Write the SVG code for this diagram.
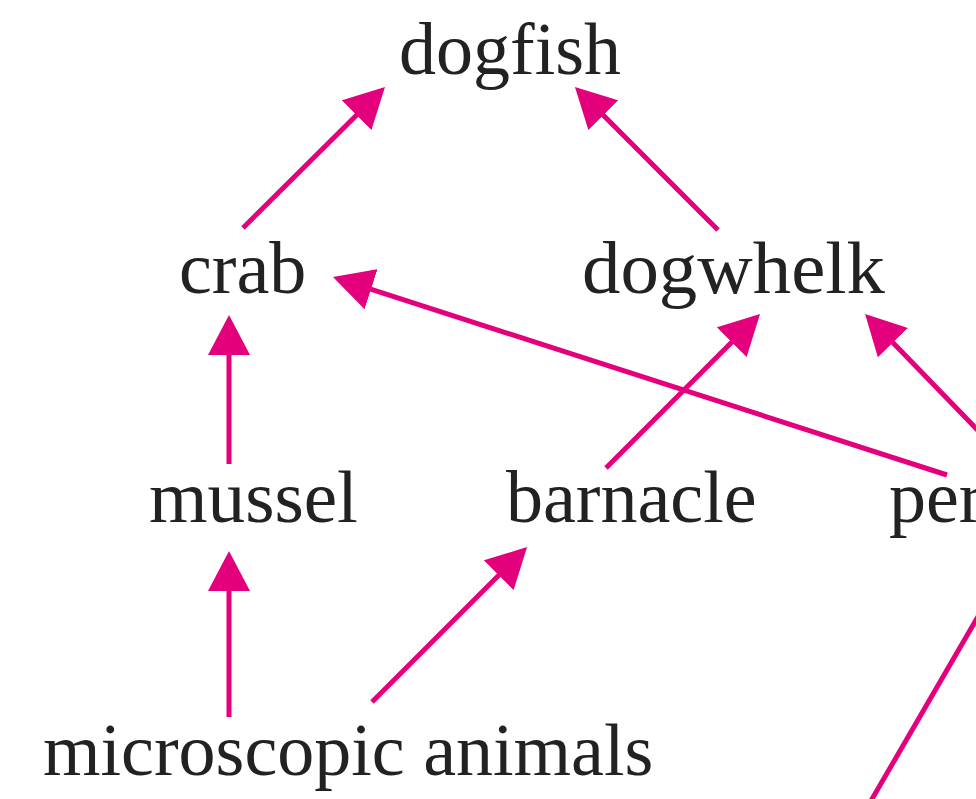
<svg xmlns="http://www.w3.org/2000/svg" width="976" height="799" viewBox="0 0 976 799">
<style>
.lbl{font-family:"Liberation Serif","Times New Roman",serif;font-size:74px;fill:#222}
.c{stroke:#E4007C;stroke-width:5;fill:none}
</style>
<defs>
<marker id="ah" markerUnits="userSpaceOnUse" viewBox="0 0 40 42" refX="20" refY="21" markerWidth="40" markerHeight="42" orient="auto">
<path d="M0,0 L40,21 L0,42 Z" fill="#E4007C"/>
</marker>
</defs>
<rect width="976" height="799" fill="#fff"/>
<g id="connectors">
<line class="c" x1="243" y1="228" x2="370.8" y2="101.1" marker-end="url(#ah)"/>
<line class="c" x1="718" y1="230" x2="589.1" y2="101.1" marker-end="url(#ah)"/>
<line class="c" x1="947" y1="475" x2="352" y2="283.1" marker-end="url(#ah)"/>
<line class="c" x1="229" y1="464" x2="229" y2="335" marker-end="url(#ah)"/>
<line class="c" x1="229" y1="717" x2="229" y2="571" marker-end="url(#ah)"/>
<line class="c" x1="372" y1="702" x2="512.9" y2="561.1" marker-end="url(#ah)"/>
<line class="c" x1="606" y1="468" x2="745.9" y2="328.1" marker-end="url(#ah)"/>
<line class="c" x1="998" y1="451" x2="879" y2="328.3" marker-end="url(#ah)"/>
<line class="c" x1="869.7" y1="803" x2="990" y2="596"/>
</g>
<g id="dogfish"><text class="lbl" x="399" y="74">dogfish</text></g>
<g id="crab"><text class="lbl" x="179" y="293">crab</text></g>
<g id="dogwhelk"><text class="lbl" x="582" y="293" textLength="303" lengthAdjust="spacingAndGlyphs">dogwhelk</text></g>
<g id="mussel"><text class="lbl" x="149" y="522" textLength="209" lengthAdjust="spacingAndGlyphs">mussel</text></g>
<g id="barnacle"><text class="lbl" x="506" y="522">barnacle</text></g>
<g id="periwinkle"><text class="lbl" x="889" y="522">per</text></g>
<g id="microscopic-animals"><text class="lbl" x="43" y="775">microscopic animals</text></g>
</svg>
